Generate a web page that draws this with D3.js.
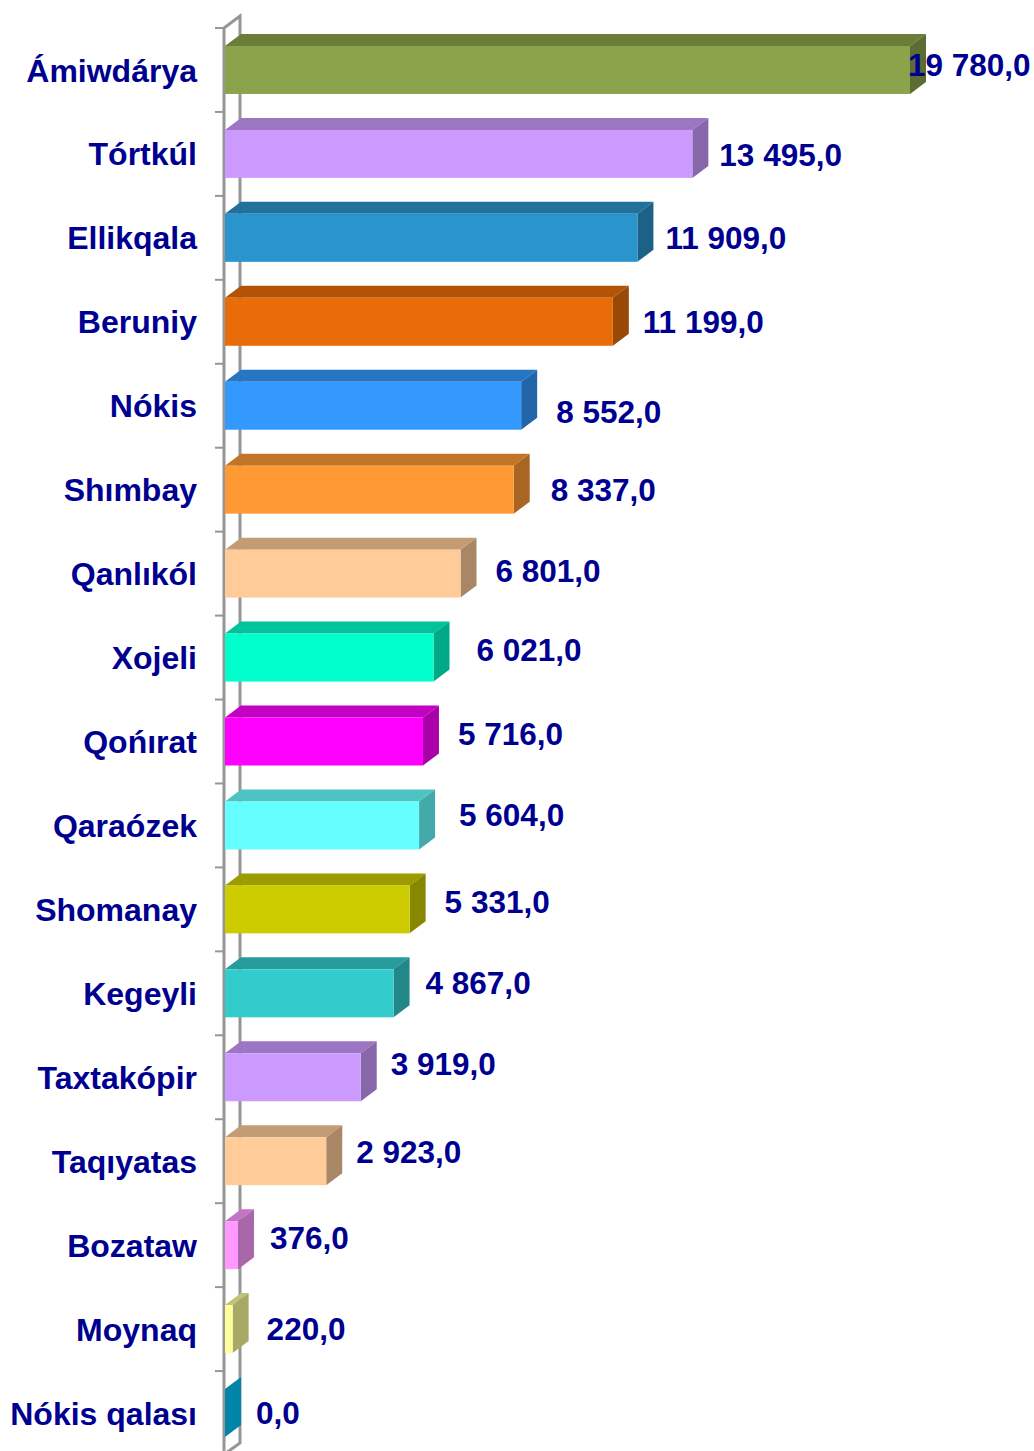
<!DOCTYPE html>
<html><head><meta charset="utf-8">
<script src="https://cdnjs.cloudflare.com/ajax/libs/d3/7.8.5/d3.min.js"></script>
<style>html,body{margin:0;padding:0;background:#fff;overflow:hidden}svg{display:block}</style>
</head><body><svg id="c" width="1034" height="1451"></svg>
<script>
const categories=["Ámiwdárya","Tórtkúl","Ellikqala","Beruniy","Nókis","Shımbay","Qanlıkól","Xojeli","Qońırat","Qaraózek","Shomanay","Kegeyli","Taxtakópir","Taqıyatas","Bozataw","Moynaq","Nókis qalası"];
const values=[19780,13495,11909,11199,8552,8337,6801,6021,5716,5604,5331,4867,3919,2923,376,220,0];
const valueLabels=["19 780,0","13 495,0","11 909,0","11 199,0","8 552,0","8 337,0","6 801,0","6 021,0","5 716,0","5 604,0","5 331,0","4 867,0","3 919,0","2 923,0","376,0","220,0","0,0"];
const barColors=["#8BA34B","#CC99FF","#2A94CC","#E86C08","#3399FF","#FF9933","#FFCC99","#00FFCC","#FF00FF","#66FFFF","#CCCC00","#33CCCC","#CC99FF","#FFCC99","#FF99FF","#FFFF99","#0085A8"];
// manual data label placement of the original (offset from the bar's end and middle)
const labelDx=[-18,11,12,14,19,21,19,27,19,24,19,16,14,14,16,18,15];
const labelDy=[-5,1,0,0,6,0,-3,-8,-8,-11,-8,-11,-14,-10,-7,0,0];

const svg=d3.select("#c");
const depthX=16,depthY=12,ink="#000090",wall="#969696";
const x=d3.scaleLinear().domain([0,19780]).range([225,910]);
const y=d3.scaleBand().domain(categories).range([28,1455]).paddingInner(36/84).paddingOuter(18/84).align(.5);
const bounds=d3.range(categories.length+1).map(i=>28+i*y.step());

// wall
const g=svg.append("g").attr("fill","none").attr("stroke",wall).attr("stroke-width",3);
g.append("path").attr("d",`M224,1456V28L240,16V1443L226,1453`);
g.selectAll("line").data(bounds).join("line")
 .attr("x1",215).attr("x2",224).attr("y1",d=>d).attr("y2",d=>d).attr("stroke-width",2);

// bars
const bars=svg.append("g").selectAll("g").data(categories).join("g");
const X=(i)=>x(values[i]);
bars.append("path").attr("fill",(d,i)=>d3.color(barColors[i]).darker(.75))
 .attr("d",(d,i)=>{const a=x(0),b=X(i),t=y(d);return `M${a},${t}L${a+depthX},${t-depthY}H${b+depthX}L${b},${t}Z`});
bars.append("path").attr("fill",(d,i)=>i==16?barColors[i]:d3.color(barColors[i]).darker(1.15))
 .attr("d",(d,i)=>{const b=X(i),t=y(d),h=y.bandwidth();return `M${b},${t}L${b+depthX},${t-depthY}V${t+h-depthY}L${b},${t+h}Z`});
bars.append("rect").attr("fill",(d,i)=>barColors[i])
 .attr("x",x(0)).attr("y",d=>y(d)).attr("width",(d,i)=>X(i)-x(0)).attr("height",y.bandwidth());

// category labels
const ax=svg.append("g").attr("transform","translate(197,0)").call(d3.axisLeft(y).tickSize(0).tickPadding(0));
ax.select(".domain").remove();
ax.selectAll("text").attr("font-family","'Liberation Sans',Arial,sans-serif").attr("font-weight","bold")
 .attr("font-size",32).attr("fill",ink).attr("dy","0.36em").attr("y",0);

// value labels
svg.append("g").selectAll("text").data(valueLabels).join("text")
 .attr("x",(d,i)=>X(i)+depthX+labelDx[i]).attr("y",(d,i)=>y(categories[i])+y.bandwidth()/2+labelDy[i])
 .attr("dy","0.36em").attr("font-family","'Liberation Sans',Arial,sans-serif").attr("font-weight","bold")
 .attr("font-size",31.5).attr("fill",ink).text(d=>d);
</script></body></html>
